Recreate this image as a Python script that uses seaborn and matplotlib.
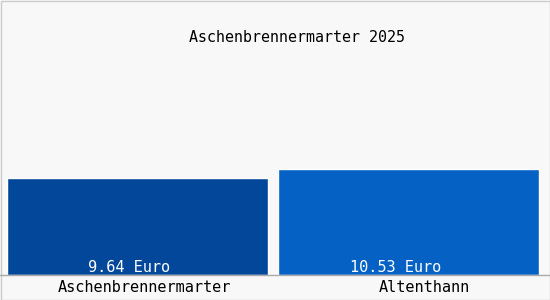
import matplotlib
matplotlib.use("Agg")
import matplotlib.pyplot as plt
from matplotlib.patches import Rectangle
from matplotlib.lines import Line2D
import seaborn as sns
import pandas as pd

title = "Aschenbrennermarter 2025"
categories = ["Aschenbrennermarter", "Altenthann"]
values = [9.64, 10.53]
value_labels = ["9.64 Euro", "10.53 Euro"]
colors = ["#03479a", "#0562c4"]

sns.set_theme(style="white")
plt.rcParams['font.family'] = ['DejaVu Sans Mono']

df = pd.DataFrame({"cat": categories, "val": values})

fig = plt.figure(figsize=(5.5, 3), dpi=100, facecolor="#f8f8f8")
ax = fig.add_axes([2.5 / 550, 25 / 300, 541 / 550, 275 / 300])
ax.set_facecolor("none")
sns.barplot(data=df, x="cat", y="val", hue="cat", palette=colors, width=0.965,
            legend=False, ax=ax, saturation=1)
ax.set_xlim(-0.5, 1.5)
ax.set_ylim(0, 27.33)
for s in ax.spines.values():
    s.set_visible(False)
ax.set_yticks([])
ax.set_xticklabels([])
ax.set_xlabel("")
ax.set_ylabel("")
ax.tick_params(axis="x", length=0)

cat_shift = [7, 16]
val_shift = [-9, -13]
for i, (lab, cat) in enumerate(zip(value_labels, categories)):
    ax.annotate(lab, (i, 0), xytext=(val_shift[i], 3), textcoords="offset pixels",
                ha="center", va="baseline", color="white", fontsize=11)
    ax.annotate(cat, (i, 0), xytext=(cat_shift[i], -17), textcoords="offset pixels",
                ha="center", va="baseline", color="black", fontsize=11,
                annotation_clip=False)

fig.add_artist(Line2D([0, 1], [25 / 300, 25 / 300], transform=fig.transFigure,
                      color="#aaaaaa", lw=1))
fig.add_artist(Rectangle((0.5 / 550, 0.5 / 300), 549 / 550, 299 / 300,
                         transform=fig.transFigure, fill=False,
                         edgecolor="#cccccc", lw=1))
fig.text(297 / 550, 1 - 38 / 300, title, ha="center", va="center",
         fontsize=10.8, color="black")

fig.savefig("out.png", dpi=100, facecolor=fig.get_facecolor())
